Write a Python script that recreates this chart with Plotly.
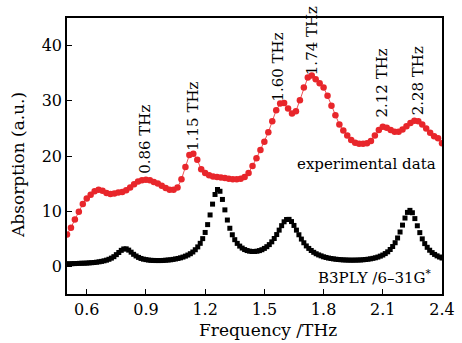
import numpy as np
import plotly.graph_objects as go

# Experimental data (red circles), sampled every 0.02 THz from 0.50 to 2.40
exp_start, exp_step = 0.50, 0.02
exp_values = [
    5.8, 7.0, 8.5, 9.9, 11.3, 12.3, 13.0, 13.6, 13.9, 13.7,
    13.3, 13.1, 13.2, 13.4, 13.5, 13.8, 14.3, 14.9, 15.4, 15.6,
    15.7, 15.6, 15.3, 15.0, 14.6, 14.2, 13.9, 13.9, 14.3, 15.8,
    18.0, 20.2, 20.4, 19.3, 17.6, 16.9, 16.5, 16.3, 16.2, 16.1,
    16.0, 15.9, 15.8, 15.8, 15.9, 16.2, 16.9, 18.2, 19.6, 21.1,
    22.6, 24.3, 26.3, 28.3, 29.5, 29.6, 28.6, 27.7, 28.1, 30.1,
    32.4, 34.2, 34.6, 33.9, 33.2, 32.4, 30.9, 29.1, 27.4, 25.7,
    24.6, 23.7, 22.9, 22.4, 22.2, 22.2, 22.3, 22.7, 23.7, 24.7,
    25.3, 25.1, 24.7, 24.4, 24.4, 24.8, 25.4, 26.0, 26.4, 26.3,
    25.7, 25.0, 24.2, 23.6, 23.2, 22.3,
]

# B3PLY/6-31G* calculation (black squares), sampled every 0.0125 THz
calc_start, calc_step = 0.50, 0.0125
calc_values = [
    0.46, 0.47, 0.49, 0.51, 0.53, 0.55, 0.57, 0.58, 0.60, 0.64,
    0.67, 0.71, 0.76, 0.83, 0.91, 1.01, 1.13, 1.29, 1.50, 1.76,
    2.13, 2.52, 2.91, 3.16, 3.18, 2.95, 2.58, 2.19, 1.89, 1.63,
    1.44, 1.31, 1.23, 1.15, 1.10, 1.08, 1.06, 1.06, 1.06, 1.08,
    1.12, 1.16, 1.20, 1.27, 1.35, 1.44, 1.55, 1.69, 1.86, 2.06,
    2.30, 2.61, 3.02, 3.53, 4.18, 5.03, 6.15, 7.57, 9.32, 11.28,
    13.03, 13.93, 13.61, 12.13, 10.24, 8.40, 6.91, 5.73, 4.84, 4.17,
    3.68, 3.32, 3.05, 2.87, 2.76, 2.70, 2.71, 2.75, 2.86, 3.02,
    3.26, 3.57, 3.95, 4.45, 5.05, 5.77, 6.57, 7.38, 8.08, 8.50,
    8.52, 8.12, 7.42, 6.57, 5.73, 4.95, 4.28, 3.71, 3.26, 2.88,
    2.55, 2.29, 2.08, 1.91, 1.74, 1.62, 1.51, 1.43, 1.36, 1.30,
    1.25, 1.21, 1.18, 1.16, 1.14, 1.13, 1.13, 1.14, 1.15, 1.17,
    1.20, 1.25, 1.30, 1.37, 1.46, 1.56, 1.69, 1.86, 2.06, 2.32,
    2.64, 3.06, 3.60, 4.29, 5.15, 6.23, 7.48, 8.76, 9.78, 10.15,
    9.72, 8.66, 7.36, 6.12, 4.99, 4.13, 3.46, 2.93, 2.50, 2.17,
    1.91, 1.70, 1.52,
]

peak_labels = ["0.86 THz", "1.15 THz", "1.60 THz", "1.74 THz", "2.12 THz", "2.28 THz"]
peak_label_x = [0.895, 1.141, 1.569, 1.739, 2.098, 2.278]
peak_label_y = [23.1, 27.2, 36.2, 40.9, 33.2, 33.7]

x_ticks = [0.6, 0.9, 1.2, 1.5, 1.8, 2.1, 2.4]
y_ticks = [0, 10, 20, 30, 40]

exp_x = np.round(exp_start + exp_step * np.arange(len(exp_values)), 4)
calc_x = np.round(calc_start + calc_step * np.arange(len(calc_values)), 4)

FONT = "DejaVu Serif"
RED = "#e8262b"

fig = go.Figure()
fig.add_trace(go.Scatter(
    x=calc_x, y=calc_values, mode="markers",
    marker=dict(symbol="square", size=5, color="black", line=dict(width=0)),
    showlegend=False, cliponaxis=True,
))
fig.add_trace(go.Scatter(
    x=exp_x, y=exp_values, mode="lines+markers",
    line=dict(color=RED, width=0.8),
    marker=dict(symbol="circle", size=6.5, color=RED, line=dict(width=0)),
    showlegend=False, cliponaxis=True,
))

for t, x, y in zip(peak_labels, peak_label_x, peak_label_y):
    fig.add_annotation(x=x, y=y, text=t, textangle=-90, showarrow=False,
                       xanchor="center", yanchor="middle",
                       font=dict(family=FONT, size=15, color="black"))

fig.add_annotation(x=2.379, y=18.5, text="experimental data", showarrow=False,
                   xanchor="right", yanchor="middle",
                   font=dict(family=FONT, size=15, color="black"))
fig.add_annotation(x=2.359, y=-2.0, text="B3PLY /6–31G<sup>*</sup>", showarrow=False,
                   xanchor="right", yanchor="middle",
                   font=dict(family=FONT, size=15, color="black"))

# axis titles
fig.add_annotation(x=0.536, y=-0.13, xref="paper", yref="paper",
                   text="Frequency /THz", showarrow=False,
                   xanchor="center", yanchor="middle",
                   font=dict(family=FONT, size=17, color="black"))
fig.add_annotation(x=-0.131, y=0.467, xref="paper", yref="paper",
                   text="Absorption (a.u.)", showarrow=False, textangle=-90,
                   xanchor="center", yanchor="middle",
                   font=dict(family=FONT, size=17, color="black"))

axis_common = dict(
    showgrid=False, zeroline=False, showline=True, linecolor="black",
    linewidth=1.5, mirror=True, ticks="inside", ticklen=5, tickwidth=1.2,
    tickcolor="black", tickfont=dict(family=FONT, size=16, color="black"),
)
fig.update_xaxes(range=[0.5, 2.4], tickvals=x_ticks,
                 ticktext=[f"{v:.1f}" for v in x_ticks], **axis_common)
fig.update_yaxes(range=[-5, 45], tickvals=y_ticks,
                 ticktext=[str(v) for v in y_ticks], **axis_common)

fig.update_layout(
    width=462, height=343,
    margin=dict(l=67, r=20, t=18, b=49, autoexpand=False),
    paper_bgcolor="white", plot_bgcolor="white",
    font=dict(family=FONT, color="black"),
)

fig.write_html("out.html", config={"displayModeBar": False})

# remove the default page margin so the figure sits at the window's corner
with open("out.html", "r", encoding="utf-8") as f:
    html = f.read()
html = html.replace("<head>", "<head><style>html,body{margin:0;padding:0;overflow:hidden;}</style>", 1)
with open("out.html", "w", encoding="utf-8") as f:
    f.write(html)
